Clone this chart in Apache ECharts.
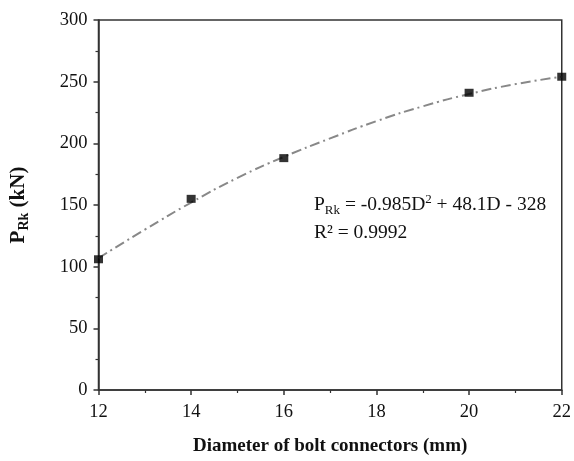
<!DOCTYPE html>
<html>
<head>
<meta charset="utf-8">
<script src="https://cdn.jsdelivr.net/npm/echarts@6/dist/echarts.min.js"></script>
<style>
  html, body { margin: 0; padding: 0; background: #fff; }
  #chart { width: 574px; height: 461px; }
</style>
</head>
<body>
<div id="chart"></div>
<script>
// Bolt diameter (mm) and characteristic resistance P_Rk (kN)
const diameters = [12, 14, 16, 20, 22];
const pRk = [106, 155, 188, 241, 254];

// Quadratic trend line, sampled at each millimetre
const fitD = [12, 13, 14, 15, 16, 17, 18, 19, 20, 21, 22];
const fitP = [107, 130, 152, 172, 189, 204, 218, 230, 240, 248, 254];

const xTicks = [12, 14, 16, 18, 20, 22];
const yTicks = [0, 50, 100, 150, 200, 250, 300];

const serif = '"Liberation Serif", "Times New Roman", serif';

const chart = echarts.init(document.getElementById('chart'), null, { renderer: 'canvas' });

const axisCommon = {
  axisLine: { show: true, onZero: false, lineStyle: { color: '#333', width: 1.5 } },
  axisTick: { show: true, inside: false, length: 5, lineStyle: { color: '#333', width: 1.5 } },
  minorTick: { show: true, splitNumber: 2, length: 3, lineStyle: { color: '#333', width: 1.2 } },
  splitLine: { show: false },
  axisLabel: { fontFamily: serif, fontSize: 18.5, color: '#111' }
};

chart.setOption({
  backgroundColor: '#fff',
  animation: false,
  grid: { left: 98, right: 11, top: 20, bottom: 68, show: true, borderColor: '#333', borderWidth: 1.5 },
  xAxis: Object.assign({}, axisCommon, {
    type: 'value',
    min: xTicks[0],
    max: xTicks[xTicks.length - 1],
    interval: 2,
    name: 'Diameter of bolt connectors (mm)',
    nameLocation: 'middle',
    nameGap: 47,
    nameTextStyle: { fontFamily: serif, fontSize: 19, fontWeight: 'bold', color: '#111' },
    axisLabel: Object.assign({}, axisCommon.axisLabel, { margin: 13 })
  }),
  yAxis: Object.assign({}, axisCommon, {
    type: 'value',
    min: yTicks[0],
    max: yTicks[yTicks.length - 1],
    interval: 50,
    name: '{b|P}{s|Rk}{b| (kN)}',
    nameLocation: 'middle',
    nameRotate: 90,
    nameGap: 67,
    nameTextStyle: {
      rich: {
        b: { fontFamily: serif, fontSize: 21, fontWeight: 'bold', color: '#111', lineHeight: 26 },
        s: { fontFamily: serif, fontSize: 14, fontWeight: 'bold', color: '#111', lineHeight: 26, verticalAlign: 'bottom', padding: [8, 0, 0, 0] }
      }
    },
    axisLabel: Object.assign({}, axisCommon.axisLabel, { margin: 11 })
  }),
  series: [
    {
      type: 'line',
      data: fitD.map((d, i) => [d, fitP[i]]),
      smooth: true,
      symbol: 'none',
      lineStyle: { color: '#888', width: 2, type: [10, 4, 2, 4] },
      z: 2
    },
    {
      type: 'scatter',
      data: diameters.map((d, i) => [d, pRk[i]]),
      symbol: 'rect',
      symbolSize: [9, 8],
      itemStyle: { color: '#000' },
      z: 3
    }
  ],
  graphic: [
    {
      type: 'text',
      left: 314,
      top: 193,
      style: {
        text: '{t|P}{sub|Rk}{t| = -0.985D}{sup|2}{t| + 48.1D - 328}',
        rich: {
          t: { fontFamily: serif, fontSize: 19.5, fill: '#111', lineHeight: 24 },
          sub: { fontFamily: serif, fontSize: 13, fill: '#111', lineHeight: 24, verticalAlign: 'bottom', padding: [8, 0, 0, 0] },
          sup: { fontFamily: serif, fontSize: 13, fill: '#111', lineHeight: 24, verticalAlign: 'top', padding: [0, 0, 8, 0] }
        }
      }
    },
    {
      type: 'text',
      left: 314,
      top: 223,
      style: {
        text: 'R² = 0.9992',
        fontFamily: serif,
        fontSize: 19.5,
        fill: '#111'
      }
    }
  ]
});
</script>
</body>
</html>
